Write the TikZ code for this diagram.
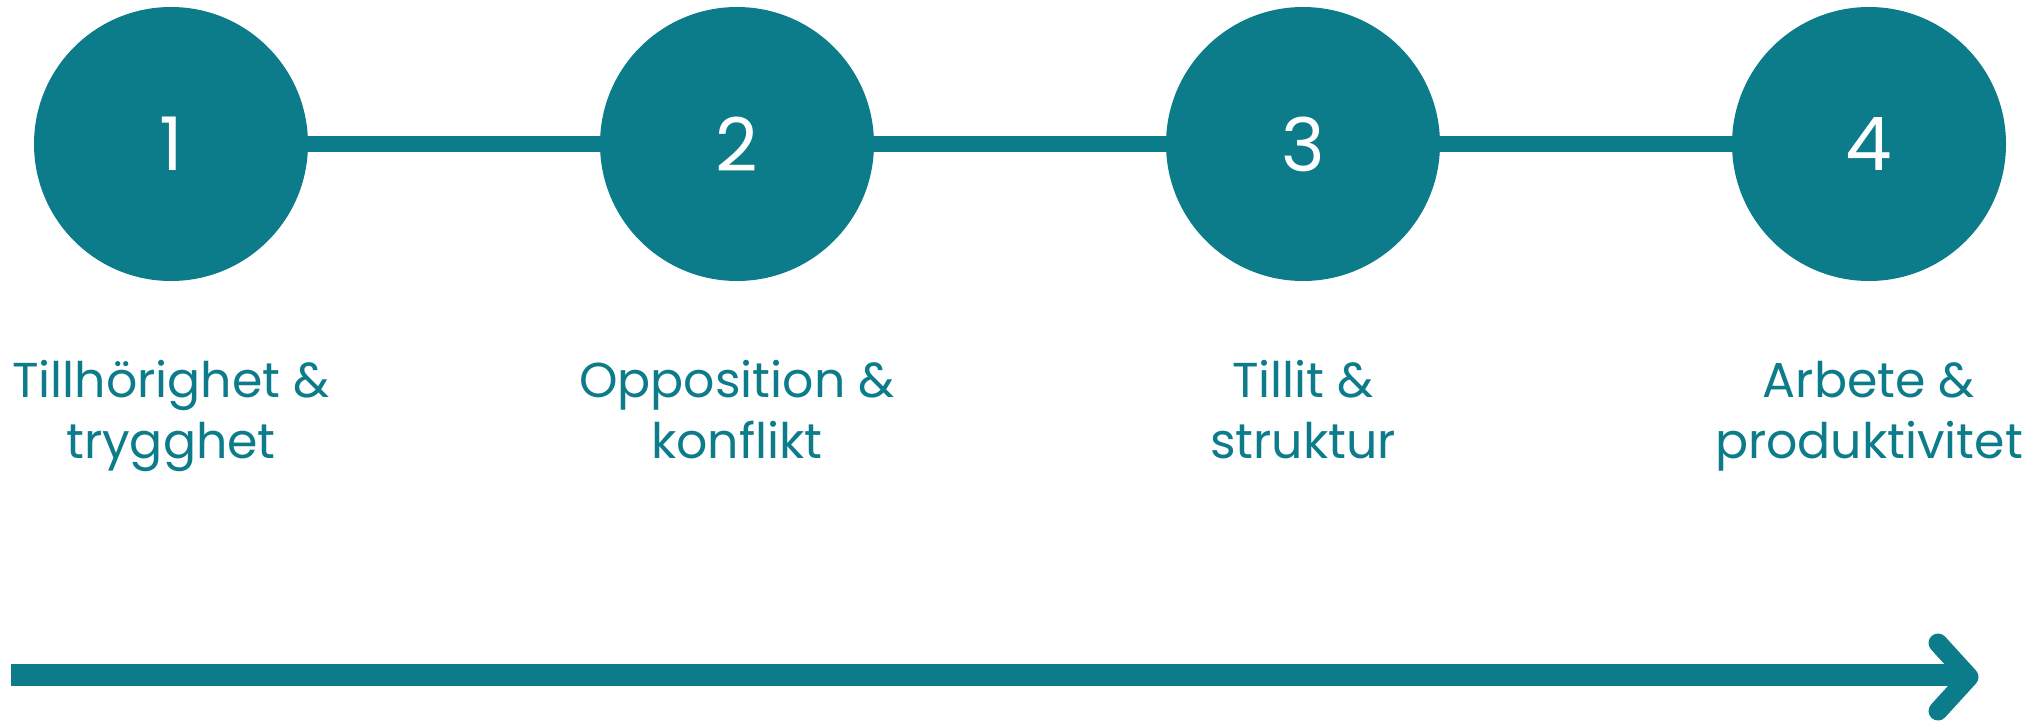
\documentclass[tikz,border=0pt]{standalone}
\usepackage{fontspec}
\setmainfont{Poppins}
\definecolor{teal}{HTML}{0C7B8A}
\begin{document}
\begin{tikzpicture}[x=1pt,y=-1pt,
  stepcircle/.style={circle,fill=teal,minimum size=274pt,inner sep=0pt,text=white,font=\fontsize{74}{74}\selectfont},
  steplabel/.style={text=teal,align=center,anchor=base,inner sep=0pt,font=\fontsize{49}{61}\selectfont},
  link/.style={draw=teal,line width=16pt},
]
\useasboundingbox (0,0) rectangle (2039,720);
\foreach \i/\x in {1/171,2/737,3/1303,4/1869}{
  \node[stepcircle] (c\i) at (\x,144) {\i};
}
\draw[link] (c1.east) -- (c2.west);
\draw[link] (c2.east) -- (c3.west);
\draw[link] (c3.east) -- (c4.west);
\node[steplabel] (l1) at (171,458) {Tillhörighet \&\\trygghet};
\node[steplabel] (l2) at (737,458) {Opposition \&\\konflikt};
\node[steplabel] (l3) at (1303,458) {Tillit \&\\struktur};
\node[steplabel] (l4) at (1869,458) {Arbete \&\\produktivitet};
\coordinate (s) at (11,675);
\coordinate (e) at (1962,675);
\coordinate (tip) at (1969,677);
\coordinate (a1) at (1938,643);
\coordinate (a2) at (1938,711);
\draw[teal,line width=22pt] (s) -- (e);
\draw[teal,line width=19pt,line cap=round,line join=round] (a1) -- (tip) -- (a2);
\end{tikzpicture}
\end{document}
